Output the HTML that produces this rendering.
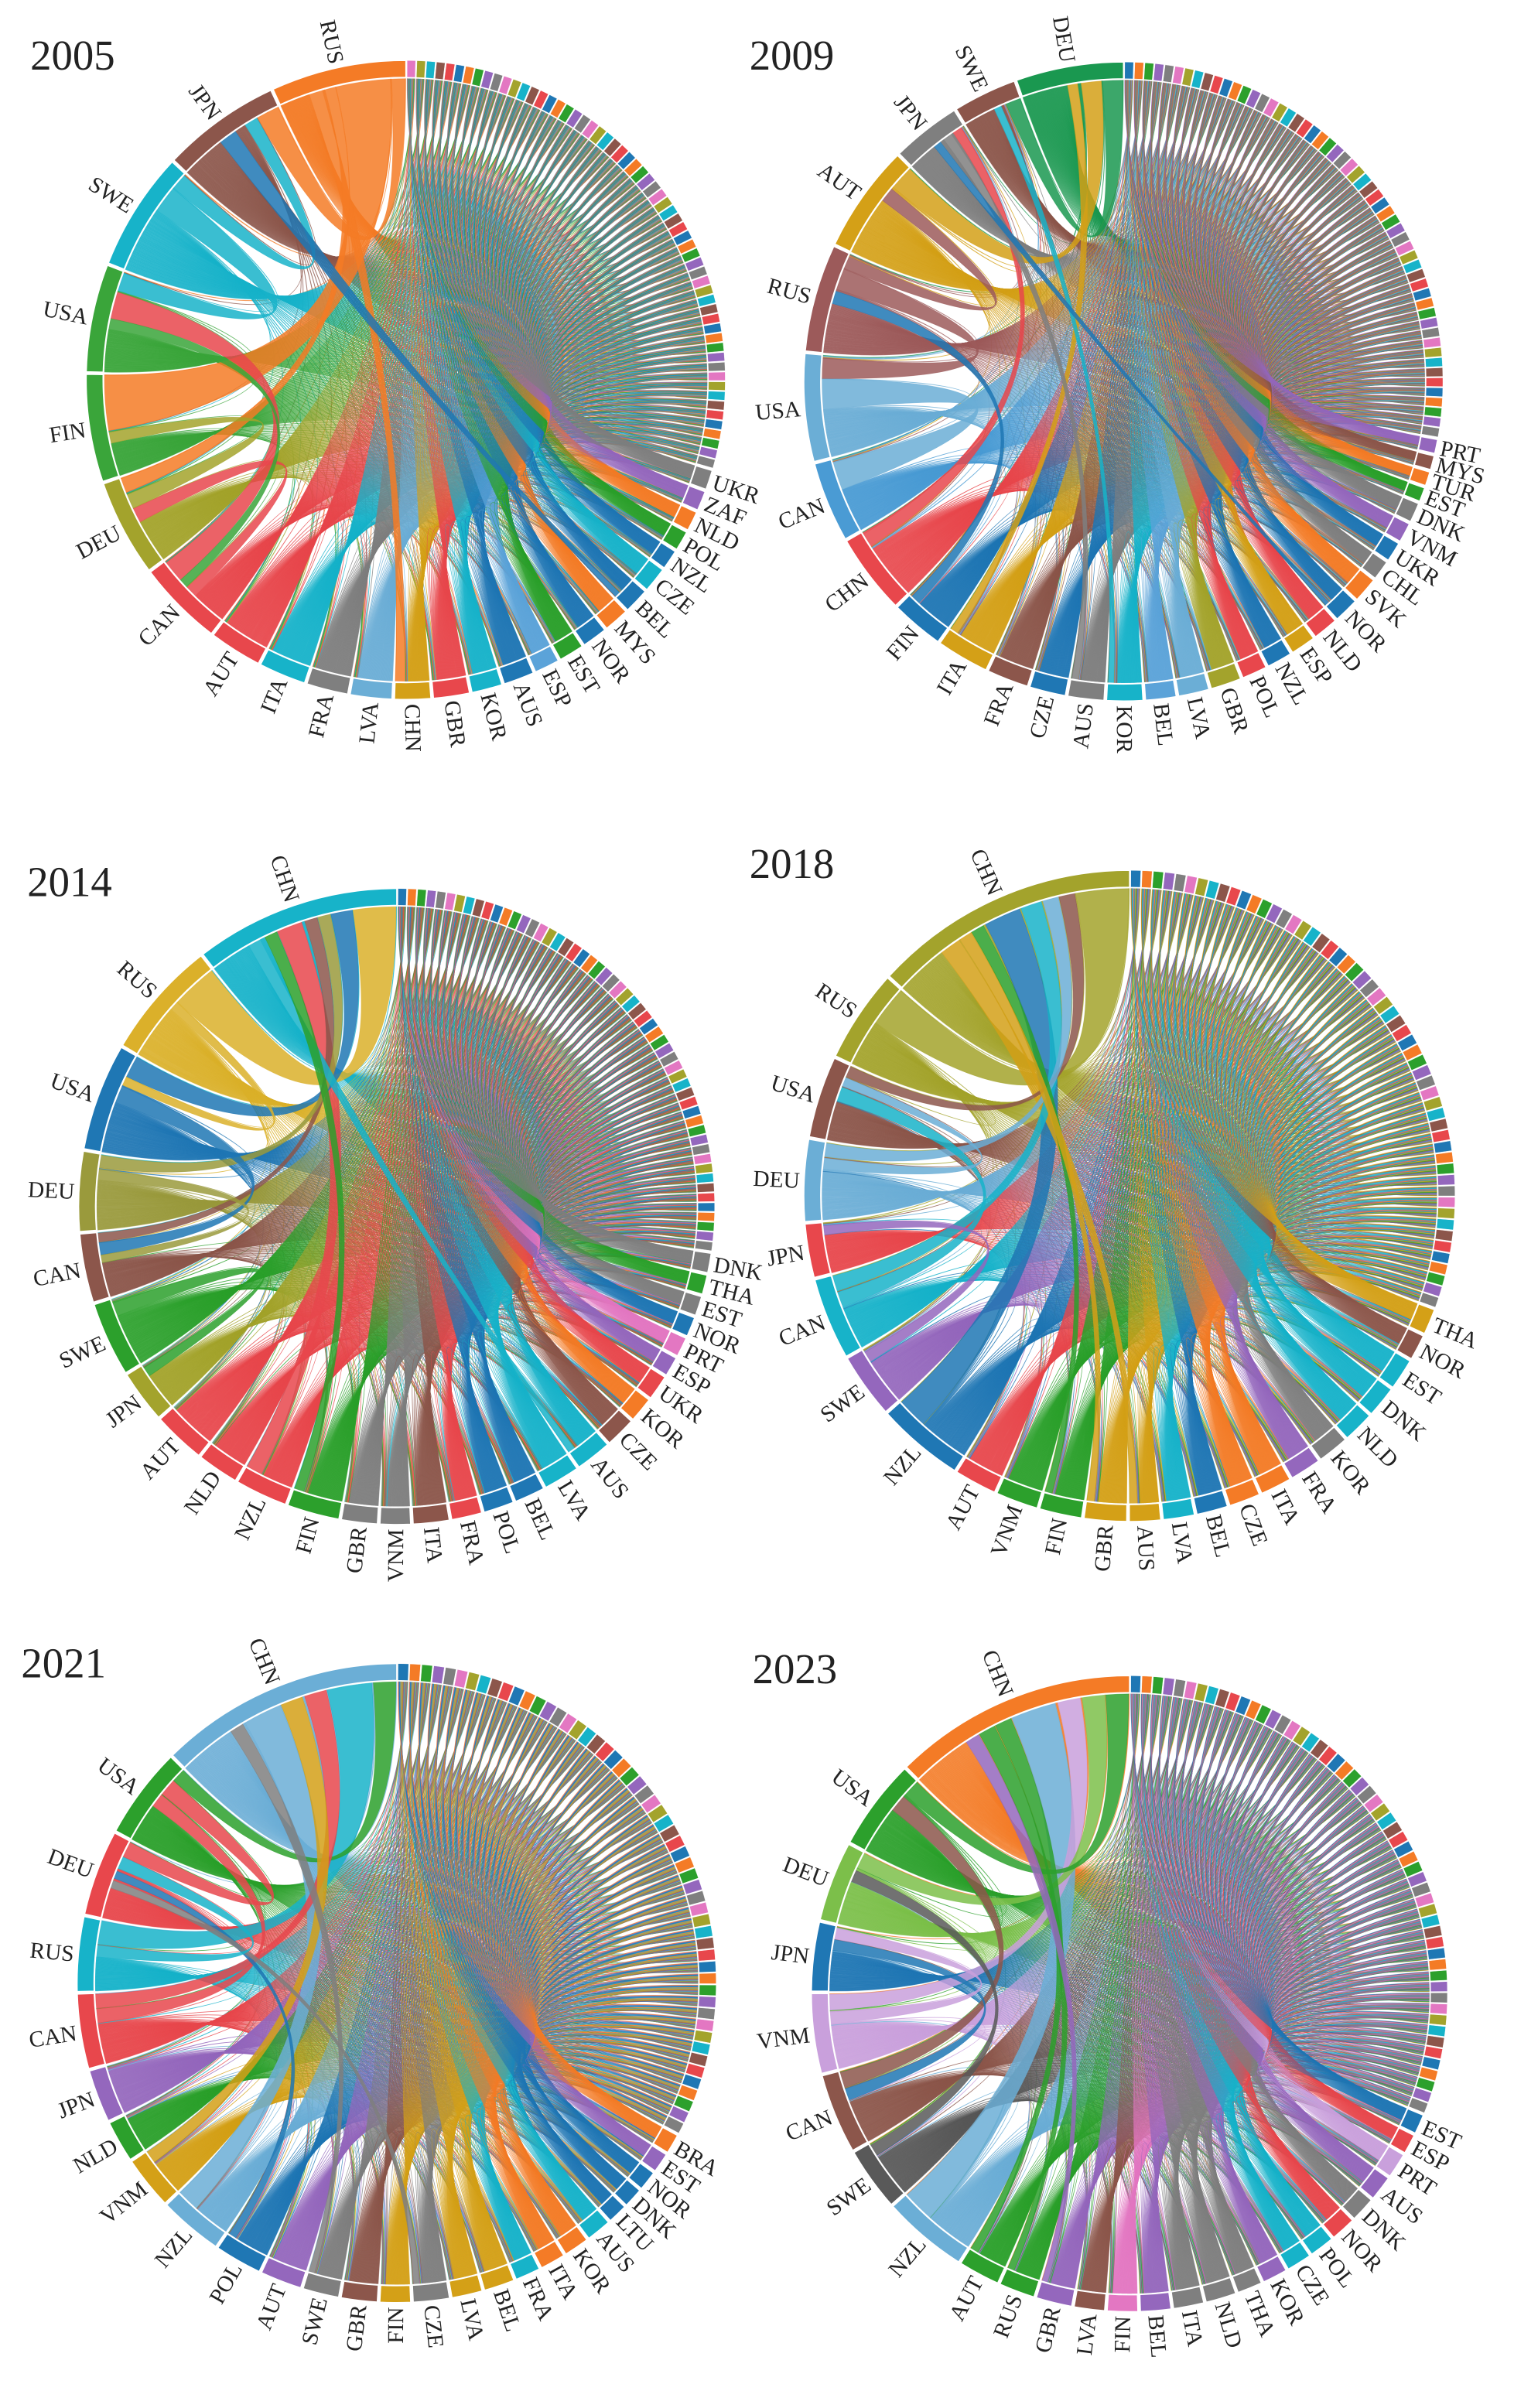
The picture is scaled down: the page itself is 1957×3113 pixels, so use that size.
<!DOCTYPE html>
<html><head><meta charset="utf-8">
<style>
html,body{margin:0;padding:0;background:#fff;}
svg{display:block;}
text{font-family:"Liberation Serif",serif;fill:#222;}
</style></head>
<body>
<svg id="chart" width="1957" height="3113" viewBox="0 0 1000 1590.7" xmlns="http://www.w3.org/2000/svg"></svg>
<script>
// ---------- data ----------
const names2005=['RUS','JPN','SWE','USA','FIN','DEU','CAN','AUT','ITA','FRA','LVA','CHN','GBR','KOR','AUS','ESP','EST','NOR','MYS','BEL','CZE','NZL','POL','NLD','ZAF','UKR'];
const sizes2005=[25,22,22,20,20,18,16,10,9,8,8,7,7,6,6,5,5,5,5,5,5,4,4,4,4,4];
const colors2005=['#f47b26','#8c564b','#17b3c9','#3aa53a','#3aa53a','#a3a32c','#e8474c','#e8474c','#17b3c9','#7f7f7f','#6baed6','#d4a017','#e8474c','#17b3c9','#1f77b4','#5ba3d9','#2ca02c','#1f77b4','#f47b26','#1f77b4','#17b3c9','#1f77b4','#2ca02c','#f47b26','#9467bd','#7f7f7f'];
const flows2005=[['RUS','FIN',40],['RUS','CHN',10],['RUS','JPN',10],['RUS','DEU',8],['CAN','USA',15],['CAN','DEU',8],['SWE','USA',10],['SWE','JPN',6],['DEU','FIN',8],['BEL','JPN',8],['USA','CAN',6]];

const names2009=['DEU','SWE','JPN','AUT','RUS','USA','CAN','CHN','FIN','ITA','FRA','CZE','AUS','KOR','BEL','LVA','GBR','POL','NZL','ESP','NLD','NOR','SVK','CHL','UKR','VNM','DNK','EST','TUR','MYS','PRT'];
const sizes2009=[20,12,13,20,20,20,15,15,10,10,8,7,7,7,6,6,6,5,5,5,5,5,5,4,4,4,4,3,3,3,3];
const colors2009=['#1a9850','#8c564b','#7f7f7f','#d4a017','#9c5a5a','#6baed6','#4a9bd4','#e8474c','#1f77b4','#d4a017','#8c564b','#1f77b4','#7f7f7f','#17b3c9','#5ba3d9','#6baed6','#a3a32c','#e8474c','#1f77b4','#d4a017','#e8474c','#1f77b4','#f47b26','#7f7f7f','#1f77b4','#9467bd','#7f7f7f','#2ca02c','#f47b26','#8c564b','#9467bd'];
const flows2009=[['USA','CAN',15],['RUS','USA',10],['DEU','SWE',10],['AUT','DEU',10],['CHN','JPN',6],['FIN','RUS',6],['ITA','DEU',5],['KOR','SWE',5],['AUS','JPN',6],['NOR','JPN',5],['RUS','AUT',6]];

const names2014=['CHN','RUS','USA','DEU','CAN','SWE','JPN','AUT','NLD','NZL','FIN','GBR','VNM','ITA','FRA','POL','BEL','LVA','AUS','CZE','KOR','UKR','ESP','PRT','NOR','EST','THA','DNK'];
const sizes2014=[38,22,20,15,13,14,10,10,8,10,10,7,6,7,6,6,6,7,7,6,5,5,4,4,4,4,4,4];
const colors2014=['#17b3c9','#dbb02a','#1f77b4','#9a9a3c','#8c564b','#2ca02c','#a3a32c','#e8474c','#e8474c','#e8474c','#2ca02c','#7f7f7f','#7f7f7f','#8c564b','#e8474c','#1f77b4','#1f77b4','#17b3c9','#17b3c9','#8c564b','#f47b26','#e8474c','#9467bd','#e377c2','#1f77b4','#7f7f7f','#2ca02c','#7f7f7f'];
const flows2014=[['NZL','CHN',12],['RUS','CHN',20],['USA','CHN',10],['CAN','CHN',6],['DEU','CHN',6],['AUS','CHN',6],['FIN','CHN',6],['USA','CAN',8],['SWE','JPN',6],['RUS','USA',4],['DEU','CAN',5]];

const names2018=['CHN','RUS','USA','DEU','JPN','CAN','SWE','NZL','AUT','VNM','FIN','GBR','AUS','LVA','BEL','CZE','ITA','FRA','KOR','NLD','DNK','EST','NOR','THA'];
const sizes2018=[48,17,15,15,10,15,12,16,8,8,8,8,6,6,6,6,6,6,6,6,6,6,5,5];
const colors2018=['#a3a32c','#a3a32c','#8c564b','#6baed6','#e8474c','#17b3c9','#9467bd','#1f77b4','#e8474c','#2ca02c','#2ca02c','#d4a017','#d4a017','#17b3c9','#1f77b4','#f47b26','#f47b26','#9467bd','#7f7f7f','#17b3c9','#17b3c9','#17b3c9','#8c564b','#d4a017'];
const flows2018=[['RUS','CHN',20],['NZL','CHN',14],['AUS','CHN',8],['CAN','CHN',8],['USA','CHN',6],['DEU','CHN',6],['CAN','USA',8],['SWE','JPN',5],['FIN','CHN',5],['DEU','USA',5],['GBR','CHN',5]];

const names2021=['CHN','USA','DEU','RUS','CAN','JPN','NLD','VNM','NZL','POL','AUT','SWE','GBR','FIN','CZE','LVA','BEL','FRA','ITA','KOR','AUS','LTU','DNK','NOR','EST','BRA'];
const sizes2021=[45,17,16,14,14,10,8,10,12,9,8,7,7,6,7,6,6,5,5,5,5,4,4,4,4,4];
const colors2021=['#6baed6','#2ca02c','#e8474c','#17b3c9','#e8474c','#9467bd','#2ca02c','#d4a017','#6baed6','#1f77b4','#9467bd','#7f7f7f','#8c564b','#d4a017','#7f7f7f','#d4a017','#d4a017','#17b3c9','#f47b26','#f47b26','#17b3c9','#1f77b4','#1f77b4','#1f77b4','#9467bd','#f47b26'];
const flows2021=[['RUS','CHN',16],['NZL','CHN',14],['USA','CHN',8],['CAN','CHN',8],['VNM','CHN',8],['DEU','USA',10],['CAN','USA',8],['POL','DEU',5],['CZE','DEU',5],['RUS','DEU',8],['SWE','CHN',5]];

const names2023=['CHN','USA','DEU','JPN','VNM','CAN','SWE','NZL','AUT','RUS','GBR','LVA','FIN','BEL','ITA','NLD','THA','KOR','CZE','POL','NOR','DNK','AUS','PRT','ESP','EST'];
const sizes2023=[45,17,15,13,15,15,12,16,8,7,7,6,6,6,6,6,5,5,5,5,5,5,5,5,4,4];
const colors2023=['#f47b26','#2ca02c','#7cbf4a','#1f77b4','#c9a0dc','#8c564b','#595959','#6baed6','#2ca02c','#2ca02c','#9467bd','#8c564b','#e377c2','#9467bd','#7f7f7f','#7f7f7f','#7f7f7f','#9467bd','#17b3c9','#17b3c9','#e8474c','#7f7f7f','#9467bd','#c9a0dc','#e8474c','#1f77b4'];
const flows2023=[['NZL','CHN',16],['VNM','CHN',8],['DEU','CHN',8],['USA','CHN',8],['CAN','USA',8],['JPN','CAN',6],['SWE','DEU',6],['RUS','CHN',6],['AUT','CHN',6],['GBR','CHN',5],['VNM','JPN',6]];

const tailPalette=['#7f7f7f','#9467bd','#2ca02c','#f47b26','#1f77b4','#e8474c','#8c564b','#17b3c9','#a3a32c','#e377c2'];

const panels=[
 {title:'2005',tx:20,ty:46,cx:268,cy:251,R:200,names:names2005,sizes:sizes2005,colors:colors2005,flows:flows2005,tail:60},
 {title:'2009',tx:495,ty:46,cx:742,cy:252,R:200,names:names2009,sizes:sizes2009,colors:colors2009,flows:flows2009,tail:55},
 {title:'2014',tx:18,ty:592,cx:262,cy:797,R:199,names:names2014,sizes:sizes2014,colors:colors2014,flows:flows2014,tail:55},
 {title:'2018',tx:495,ty:580,cx:746,cy:790,R:204,names:names2018,sizes:sizes2018,colors:colors2018,flows:flows2018,tail:55},
 {title:'2021',tx:14,ty:1108,cx:262,cy:1310,R:200,names:names2021,sizes:sizes2021,colors:colors2021,flows:flows2021,tail:55},
 {title:'2023',tx:497,ty:1112,cx:746,cy:1317,R:199,names:names2023,sizes:sizes2023,colors:colors2023,flows:flows2023,tail:55}
];

// ---------- render ----------
const NS='http://www.w3.org/2000/svg';
const svg=document.getElementById('chart');
function mk(tag,attrs,parent){const e=document.createElementNS(NS,tag);for(const k in attrs)e.setAttribute(k,attrs[k]);parent.appendChild(e);return e;}

panels.forEach(p=>{
  const g=mk('g',{},svg);
  
  
  const t=mk('text',{x:p.tx,y:p.ty,'font-size':28},g);
  t.textContent=p.title;
  
  
  const labeledSum=p.sizes.reduce((a,b)=>a+b,0);
  const tailSize=(360-labeledSum)/p.tail;
  const nodes=[];
  p.names.forEach((n,i)=>nodes.push({name:n,size:p.sizes[i],color:p.colors[i],labeled:true}));
  for(let k=0;k<p.tail;k++)nodes.push({name:'',size:tailSize,color:tailPalette[k%tailPalette.length],labeled:false});
  let s=0;
  nodes.forEach(nd=>{const gap=nd.labeled?0.5:0.25;nd.hi=360-s;nd.lo=360-s-nd.size+gap;s+=nd.size;nd.ends=[];});
  const idx={};p.names.forEach((n,i)=>idx[n]=i);
  const flows=[];
  const L=p.names.length;
  for(let i=0;i<L;i++)for(let j=i+1;j<nodes.length;j++){
    const swap=(j<L&&p.sizes[j]>p.sizes[i]);
    flows.push({a:swap?j:i,b:swap?i:j,w:0.3,major:false});
  }
  p.flows.forEach(f=>{if(idx[f[0]]!==undefined&&idx[f[1]]!==undefined)flows.push({a:idx[f[0]],b:idx[f[1]],w:f[2],major:true});});
  flows.forEach((f,fi)=>{nodes[f.a].ends.push({f:fi,w:f.w,other:f.b,side:'A'});nodes[f.b].ends.push({f:fi,w:f.w,other:f.a,side:'B'});});
  nodes.forEach((nd,ni)=>{
    const tot=nd.ends.reduce((a,e)=>a+e.w,0);
    nd.ends.sort((x,y)=>nodes[y.other].hi-nodes[x.other].hi);
    let a=nd.hi;const span=nd.hi-nd.lo;
    nd.ends.forEach(e=>{const d=span*e.w/tot;const f=flows[e.f];const seg=[a-d,a];if(e.side==='A')f.segA=seg;else f.segB=seg;a-=d;});
  });
  const R=p.R;
  const P=(a,r)=>{const rad=a*Math.PI/180;return (p.cx+r*Math.sin(rad)).toFixed(2)+','+(p.cy-r*Math.cos(rad)).toFixed(2);};
  const rib=mk('g',{},g);
  
  
  const order=flows.filter(f=>!f.major).concat(flows.filter(f=>f.major));
  order.forEach(f=>{
    const r=R-1;const A=f.segA,B=f.segB;if(!A||!B)return;
    const a0=P(A[0],r),a1=P(A[1],r),b0=P(B[0],r),b1=P(B[1],r);
    const d=`M${a0}A${r},${r} 0 0 1 ${a1}Q${p.cx},${p.cy} ${b0}A${r},${r} 0 0 1 ${b1}Q${p.cx},${p.cy} ${a0}Z`;
    const path=mk('path',{d:d,fill:nodes[f.a].color,'fill-opacity':f.major?0.85:0.75,stroke:nodes[f.a].color,'stroke-opacity':0.6,'stroke-width':0.35},rib);
    
    
  });
  nodes.forEach(nd=>{
    const r0=R,r1=R+11;
    const o0=P(nd.lo,r1),o1=P(nd.hi,r1),i1=P(nd.hi,r0),i0=P(nd.lo,r0);
    const d=`M${o0}A${r1},${r1} 0 0 1 ${o1}L${i1}A${r0},${r0} 0 0 0 ${i0}Z`;
    const arc=mk('path',{d:d,fill:nd.color,stroke:'#fff','stroke-width':nd.labeled?0.6:0.2},g);
    
    
    if(nd.labeled){
      const m=(nd.lo+nd.hi)/2;
      const left=m>180;
      const tr=`translate(${p.cx},${p.cy}) rotate(${(m-90).toFixed(2)}) translate(${R+14},0)`+(left?' rotate(180)':'');
      const lb=mk('text',{transform:tr,'font-size':15,'text-anchor':left?'end':'start',dy:'0.35em'},g);
      lb.textContent=nd.name;
      
      
    }
  });
});
</script>
</body></html>
